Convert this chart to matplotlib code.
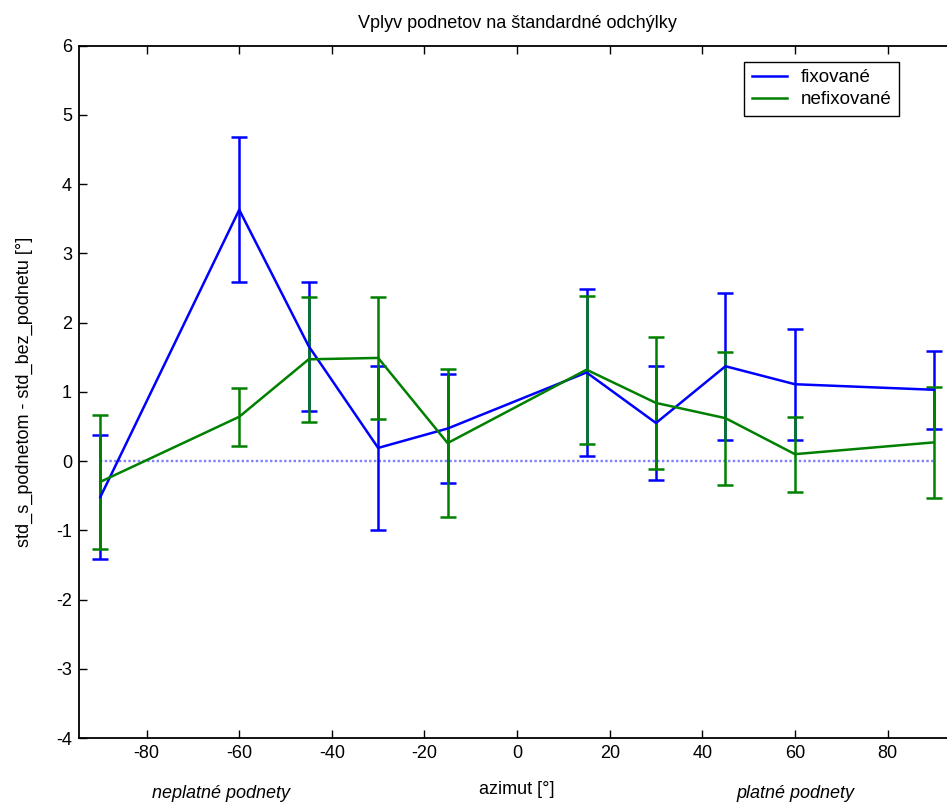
import numpy as np
import matplotlib
matplotlib.use("Agg")
import matplotlib.pyplot as plt

# hodnoty odčítané z grafu
azimut = [-90, -60, -45, -30, -15, 15, 30, 45, 60, 90]
fix_mean = [-0.52, 3.63, 1.66, 0.19, 0.47, 1.28, 0.55, 1.37, 1.11, 1.03]
fix_err = [0.90, 1.05, 0.93, 1.19, 0.79, 1.20, 0.82, 1.06, 0.80, 0.56]
nefix_mean = [-0.30, 0.64, 1.47, 1.49, 0.26, 1.32, 0.84, 0.62, 0.10, 0.27]
nefix_err = [0.97, 0.42, 0.90, 0.88, 1.07, 1.07, 0.95, 0.96, 0.54, 0.80]
nula_x = [-90, 90]
nula_y = [0, 0]

plt.rcParams['font.family'] = ['Liberation Sans', 'DejaVu Sans']
plt.rcParams['font.size'] = 13
plt.rcParams['axes.unicode_minus'] = False

W, H = 947, 805
fig = plt.figure(figsize=(W / 100, H / 100), dpi=100)
ax = fig.add_axes([79 / W, 1 - 738 / H, 878 / W, 692.3 / H])

modra = '#0000ff'
zelena = '#008000'

ax.plot(nula_x, nula_y, color='#7f7fff', linestyle=(0, (1, 1)), lw=1.7)

ax.errorbar(azimut, fix_mean, yerr=fix_err, color=modra, lw=1.8,
            capsize=6, capthick=1.8)
ax.errorbar(azimut, nefix_mean, yerr=nefix_err, color=zelena, lw=1.8,
            capsize=6, capthick=1.8)
l1, = ax.plot([], [], color=modra, lw=1.8, label='fixované')
l2, = ax.plot([], [], color=zelena, lw=1.8, label='nefixované')

ax.set_xlim(-94.6, 95)
ax.set_ylim(-4, 6)
ax.set_xticks(np.arange(-80, 81, 20))
ax.set_yticks(np.arange(-4, 7, 1))
ax.tick_params(direction='in', top=True, right=True, length=5.8, width=1,
               pad=5, labelsize=13)
for s in ax.spines.values():
    s.set_linewidth(1.3)

leg = ax.legend(handles=[l1, l2], loc='upper left',
                bbox_to_anchor=(744 / W, 1 - 61.7 / H),
                bbox_transform=fig.transFigure, fancybox=False,
                edgecolor='black', framealpha=1, handlelength=1.9,
                handletextpad=0.75, labelspacing=0.25, borderpad=0.4,
                borderaxespad=0, fontsize=13.5)
leg.get_frame().set_linewidth(1.0)

fig.text(517 / W, 1 - 23 / H, 'Vplyv podnetov na štandardné odchýlky',
         ha='center', va='center', fontsize=13)
fig.text(24 / W, 1 - 392 / H, 'std_s_podnetom - std_bez_podnetu [°]',
         rotation=90, ha='center', va='center', fontsize=13)
fig.text(517 / W, 1 - 789 / H, 'azimut [°]', ha='center', va='center',
         fontsize=13)
fig.text(221 / W, 1 - 793 / H, 'neplatné podnety', ha='center', va='center',
         fontsize=13, fontstyle='italic')
fig.text(795 / W, 1 - 793 / H, 'platné podnety', ha='center', va='center',
         fontsize=13, fontstyle='italic')

fig.savefig('out.png', dpi=100)
